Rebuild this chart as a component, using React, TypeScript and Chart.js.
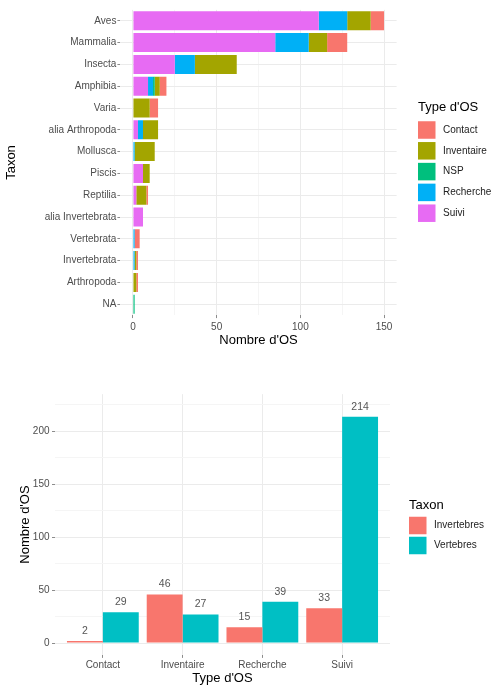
import React, { useEffect, useRef } from "react";
import { Chart, registerables } from "chart.js";

Chart.register(...registerables);

const FONT = "'Liberation Sans', Arial, Helvetica, sans-serif";
Chart.defaults.font.family = FONT;

// ---------- Top chart data ----------
const taxa = [
  "Aves",
  "Mammalia",
  "Insecta",
  "Amphibia",
  "Varia",
  "alia Arthropoda",
  "Mollusca",
  "Piscis",
  "Reptilia",
  "alia Invertebrata",
  "Vertebrata",
  "Invertebrata",
  "Arthropoda",
  "NA",
];
const suivi = [111, 85, 25, 9, 0, 3, 0, 6, 2, 6, 0, 0, 0, 0];
const recherche = [17, 20, 12, 3, 0, 3, 1, 0, 0, 0, 1, 1, 0, 0];
const nsp = [0, 0, 0, 1, 0, 0, 0, 0, 0, 0, 0, 0, 0, 1];
const inventaire = [14, 11, 25, 3, 10, 9, 12, 4, 6, 0, 0, 1, 2, 0];
const contact = [8, 12, 0, 4, 5, 0, 0, 0, 1, 0, 3, 1, 1, 0];
const topTicks = [0, 25, 50, 75, 100, 125, 150];

// ---------- Bottom chart data ----------
const osTypes = ["Contact", "Inventaire", "Recherche", "Suivi"];
const invertebres = [2, 46, 15, 33];
const vertebres = [29, 27, 39, 214];
const bottomTicks = [0, 25, 50, 75, 100, 125, 150, 175, 200, 225];

const MAJOR = "#EBEBEB";
const MINOR = "#F5F5F5";
const TICKC = "#8C8C8C";

type LegendCfg = {
  title: string;
  x: number;
  titleY: number;
  firstY: number;
  step: number;
  box: number;
  textX: number;
  reverse: boolean;
};

function makeLegend(cfg: LegendCfg) {
  return {
    id: "ggLegend",
    afterDraw(chart: any) {
      const ctx = chart.ctx;
      const ds = chart.data.datasets.map((d: any) => ({ label: d.label, color: d.backgroundColor }));
      const items = cfg.reverse ? ds.slice().reverse() : ds;
      ctx.save();
      ctx.textBaseline = "middle";
      ctx.textAlign = "left";
      ctx.font = `13px ${FONT}`;
      ctx.fillStyle = "#000";
      ctx.fillText(cfg.title, cfg.x, cfg.titleY);
      ctx.font = `10px ${FONT}`;
      items.forEach((it: any, i: number) => {
        const cy = cfg.firstY + i * cfg.step;
        ctx.fillStyle = it.color;
        ctx.fillRect(cfg.x, cy - cfg.box / 2, cfg.box, cfg.box);
        ctx.fillStyle = "#222";
        ctx.fillText(it.label, cfg.textX, cy);
      });
      ctx.restore();
    },
  };
}

const valueLabels = {
  id: "valueLabels",
  afterDatasetsDraw(chart: any) {
    const ctx = chart.ctx;
    ctx.save();
    ctx.font = `10.5px ${FONT}`;
    ctx.fillStyle = "#555";
    ctx.textAlign = "center";
    ctx.textBaseline = "middle";
    chart.data.datasets.forEach((d: any, di: number) => {
      const meta = chart.getDatasetMeta(di);
      meta.data.forEach((bar: any, i: number) => {
        const v = d.data[i].y;
        ctx.fillText(String(v), bar.x, bar.y - 10);
      });
    });
    ctx.restore();
  },
};

function TopChart() {
  const ref = useRef<HTMLCanvasElement>(null);
  useEffect(() => {
    const chart = new Chart(ref.current as HTMLCanvasElement, {
      type: "bar",
      data: {
        labels: taxa,
        datasets: [
          { label: "Suivi", data: suivi, backgroundColor: "#E76BF3" },
          { label: "Recherche", data: recherche, backgroundColor: "#00B0F6" },
          { label: "NSP", data: nsp, backgroundColor: "#00BF7D" },
          { label: "Inventaire", data: inventaire, backgroundColor: "#A3A500" },
          { label: "Contact", data: contact, backgroundColor: "#F8766D" },
        ],
      },
      options: {
        indexAxis: "y",
        animation: false,
        responsive: false,
        events: [],
        layout: { padding: { top: 9.9, right: 102.4, left: 0, bottom: 0 } },
        datasets: { bar: { categoryPercentage: 0.87, barPercentage: 1, borderWidth: 0 } },
        plugins: { legend: { display: false }, tooltip: { enabled: false } },
        scales: {
          x: {
            type: "linear",
            stacked: true,
            min: -7.5,
            max: 157.5,
            offset: false,
            afterBuildTicks: (s: any) => {
              s.ticks = topTicks.map((v) => ({ value: v }));
            },
            afterFit: (s: any) => {
              s.height = 44.9;
            },
            ticks: {
              autoSkip: false,
              maxRotation: 0,
              padding: 3,
              color: "#4D4D4D",
              font: { size: 10 },
              callback: (v: any) => (Number(v) % 50 === 0 ? String(v) : ""),
            },
            grid: {
              offset: false,
              color: (c: any) => (c.tick && c.tick.value % 50 === 0 ? MAJOR : MINOR),
              lineWidth: 1,
              tickLength: 3,
              tickColor: (c: any) => (c.tick && c.tick.value % 50 === 0 ? TICKC : "rgba(0,0,0,0)"),
            },
            border: { display: false },
            title: {
              display: true,
              text: "Nombre d'OS",
              color: "#000",
              font: { size: 13 },
              padding: { top: 0, bottom: 12.2 },
            },
          },
          y: {
            type: "category",
            stacked: true,
            offset: true,
            afterFit: (s: any) => {
              s.width = 120.4;
            },
            ticks: { autoSkip: false, padding: 1, color: "#4D4D4D", font: { size: 10 } },
            grid: { offset: false, color: MAJOR, lineWidth: 1, tickLength: 3, tickColor: TICKC },
            border: { display: false },
            title: {
              display: true,
              text: "Taxon",
              color: "#000",
              font: { size: 13 },
              padding: { top: 4, bottom: 0 },
            },
          },
        },
      } as any,
      plugins: [
        makeLegend({
          title: "Type d'OS",
          x: 418,
          titleY: 107.5,
          firstY: 130,
          step: 20.8,
          box: 17.5,
          textX: 443,
          reverse: true,
        }),
      ],
    });
    return () => chart.destroy();
  }, []);
  return <canvas ref={ref} width={499} height={360} style={{ display: "block", width: 499, height: 360 }} />;
}

function BottomChart() {
  const ref = useRef<HTMLCanvasElement>(null);
  useEffect(() => {
    const chart = new Chart(ref.current as HTMLCanvasElement, {
      type: "bar",
      data: {
        datasets: [
          {
            label: "Invertebres",
            data: invertebres.map((v, i) => ({ x: i + 1, y: v })),
            backgroundColor: "#F8766D",
          },
          {
            label: "Vertebres",
            data: vertebres.map((v, i) => ({ x: i + 1, y: v })),
            backgroundColor: "#00BFC4",
          },
        ],
      },
      options: {
        animation: false,
        responsive: false,
        events: [],
        layout: { padding: { top: 34.2, right: 109, left: 0, bottom: 0 } },
        datasets: { bar: { categoryPercentage: 0.9, barPercentage: 1, borderWidth: 0 } },
        plugins: { legend: { display: false }, tooltip: { enabled: false } },
        scales: {
          x: {
            type: "linear",
            min: 0.4,
            max: 4.6,
            offset: false,
            afterBuildTicks: (s: any) => {
              s.ticks = osTypes.map((_, i) => ({ value: i + 1 }));
            },
            afterFit: (s: any) => {
              s.height = 328 - 294.9;
            },
            ticks: {
              autoSkip: false,
              maxRotation: 0,
              padding: 1,
              color: "#4D4D4D",
              font: { size: 10 },
              callback: (v: any) => osTypes[Math.round(Number(v)) - 1] ?? "",
            },
            grid: { offset: false, color: MAJOR, lineWidth: 1, tickLength: 3, tickColor: TICKC },
            border: { display: false },
            title: {
              display: true,
              text: "Type d'OS",
              color: "#000",
              font: { size: 13 },
              padding: { top: 0, bottom: 2 },
            },
          },
          y: {
            type: "linear",
            min: -11.2,
            max: 235.2,
            afterBuildTicks: (s: any) => {
              s.ticks = bottomTicks.map((v) => ({ value: v }));
            },
            afterFit: (s: any) => {
              s.width = 55;
            },
            ticks: {
              autoSkip: false,
              padding: 2.5,
              color: "#4D4D4D",
              font: { size: 10 },
              callback: (v: any) => (Number(v) % 50 === 0 ? String(v) : ""),
            },
            grid: {
              color: (c: any) => (c.tick && c.tick.value % 50 === 0 ? MAJOR : MINOR),
              lineWidth: 1,
              tickLength: 3,
              tickColor: (c: any) => (c.tick && c.tick.value % 50 === 0 ? TICKC : "rgba(0,0,0,0)"),
            },
            border: { display: false },
            title: {
              display: true,
              text: "Nombre d'OS",
              color: "#000",
              font: { size: 13 },
              padding: { top: 18, bottom: 0 },
            },
          },
        },
      } as any,
      plugins: [
        valueLabels,
        makeLegend({
          title: "Taxon",
          x: 409,
          titleY: 145,
          firstY: 165.5,
          step: 20,
          box: 17.5,
          textX: 434,
          reverse: false,
        }),
      ],
    });
    return () => chart.destroy();
  }, []);
  return <canvas ref={ref} width={499} height={328} style={{ display: "block", width: 499, height: 328 }} />;
}

export default function App() {
  useEffect(() => {
    document.body.style.margin = "0";
  }, []);
  return (
    <div style={{ width: 499, height: 688, background: "#fff" }}>
      <TopChart />
      <BottomChart />
    </div>
  );
}
